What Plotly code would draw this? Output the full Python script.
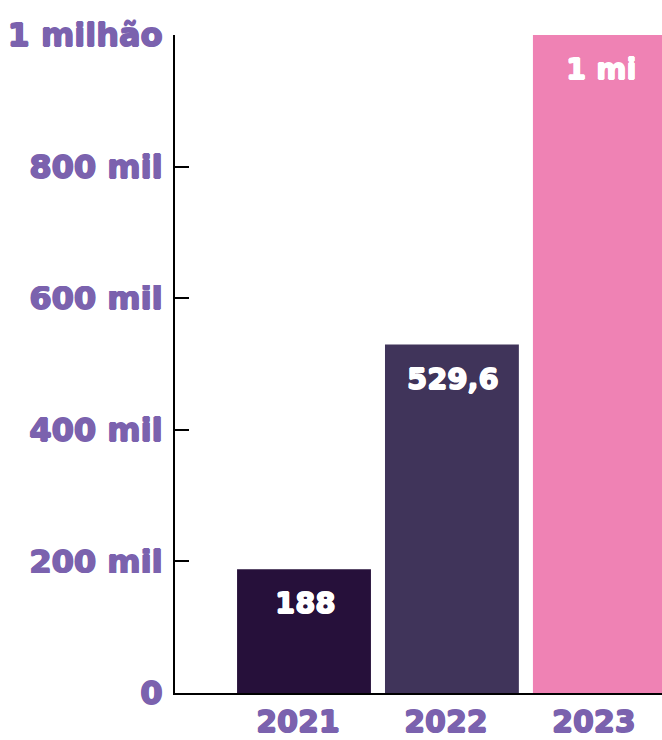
import plotly.graph_objects as go

years = ["2021", "2022", "2023"]
values = [188000, 529600, 1000000]
value_labels = ["188", "529,6", "1 mi"]
bar_colors = ["#26103a", "#40345a", "#ef82b4"]
tick_vals = [0, 200000, 400000, 600000, 800000, 1000000]
tick_text = ["0", "200 mil", "400 mil", "600 mil", "800 mil", "1 milhão"]

purple = "#7b62ae"
FONT = "DejaVu Sans"


def thick(c, d=0.8):
    return f"{d}px 0 0 {c}, -{d}px 0 0 {c}, 0 {d}px 0 {c}, 0 -{d}px 0 {c}"


fig = go.Figure()
fig.add_trace(go.Bar(
    x=years, y=values, marker=dict(color=bar_colors, line=dict(width=0)),
    hoverinfo="skip", showlegend=False,
))
for i, (v, t) in enumerate(zip(values, value_labels)):
    fig.add_annotation(x=i, y=v, xref="x", yref="y", text=t, showarrow=False,
                       yanchor="middle", yshift=-34, xshift=1,
                       font=dict(family=FONT, size=29, color="white", weight="bold",
                                 shadow=thick("white")))

fig.update_layout(
    width=662, height=740,
    margin=dict(l=175, r=0, t=35, b=47, autoexpand=False),
    paper_bgcolor="white", plot_bgcolor="white",
    bargap=0.095,
    xaxis=dict(
        type="category", range=[-0.872, 2.42], automargin=False,
        showline=True, linecolor="black", linewidth=2, layer="below traces",
        showgrid=False, zeroline=False, ticks="",
        tickfont=dict(family=FONT, size=30, color=purple, weight="bold",
                      shadow=thick(purple)),
        ticklabelstandoff=1, ticklabelshift=-6,
    ),
    yaxis=dict(
        range=[0, 1000000], tickvals=tick_vals, ticktext=tick_text, automargin=False,
        showline=True, linecolor="black", linewidth=2,
        showgrid=False, zeroline=False,
        ticks="inside", ticklen=14, tickwidth=2, tickcolor="black",
        tickfont=dict(family=FONT, size=32, color=purple, weight="bold",
                      shadow=thick(purple)),
        ticklabelstandoff=4,
    ),
)
fig.write_html("out.html", config={"displayModeBar": False},
               post_script="document.body.style.margin='0';document.body.style.overflow='hidden';")
